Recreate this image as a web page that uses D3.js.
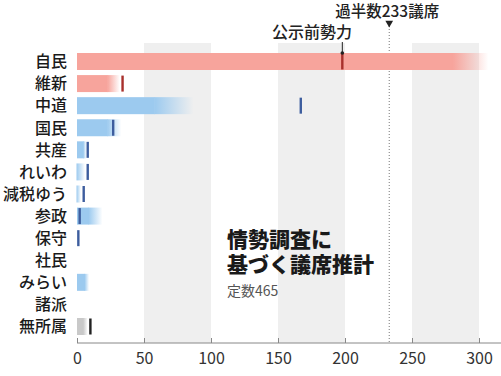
<!DOCTYPE html>
<html>
<head>
<meta charset="utf-8">
<script src="https://cdn.jsdelivr.net/npm/d3@7"></script>
<style>
  html, body { margin: 0; padding: 0; background: #fff; }
  svg { display: block; }
  text { font-family: "Noto Sans CJK JP", "Noto Sans", sans-serif; }
</style>
</head>
<body>
<svg id="chart" width="501" height="376"></svg>
<script>
// parties, top to bottom
const parties = ["自民", "維新", "中道", "国民", "共産", "れいわ", "減税ゆう", "参政", "保守", "社民", "みらい", "諸派", "無所属"];
// estimate range: solid up to low, fading out to high
const lowSeats  = [281, 23, 58, 23, 5, 0, 0, 9, 0, 0, 6, 0, 5];
const highSeats = [307, 32, 87, 33, 7, 6, 3, 19, 0, 0, 9, 0, 8];
// seats held before the campaign (null = none shown)
const preSeats  = [198, 34, 167, 27, 8, 8, 5, 2, 1, null, null, null, 10];
const colorGroup = ["red", "red", "blue", "blue", "blue", "blue", "blue", "blue", "blue", "blue", "blue", "blue", "gray"];
const xTicks = [0, 50, 100, 150, 200, 250, 300];
const shadedBands = [[50, 100], [150, 200], [250, 300]];
const majority = 233;
const titleLines = ["情勢調査に", "基づく議席推計"];

const palette = {
    red:  { bar: "#f7a49c", tick: "#a8302c" },
    blue: { bar: "#9ccaef", tick: "#3d5d9e" },
    gray: { bar: "#c9c9c9", tick: "#222" }
};

const svg = d3.select("#chart");
const axisY = 343;

const x = d3.scaleLinear().domain([0, 300]).range([77, 479]);
const y = d3.scalePoint().domain(parties).range([61.5, 326.5]);
const barH = 17;

// gradients for the fading part
const defs = svg.append("defs");
Object.keys(palette).forEach(k => {
    const gr = defs.append("linearGradient").attr("id", "fade-" + k)
        .attr("x1", 0).attr("x2", 1).attr("y1", 0).attr("y2", 0);
    gr.append("stop").attr("offset", 0).attr("stop-color", palette[k].bar).attr("stop-opacity", 1);
    gr.append("stop").attr("offset", 1).attr("stop-color", palette[k].bar).attr("stop-opacity", 0);
});

// gray bands
svg.selectAll("rect.band")
    .data(shadedBands)
    .enter()
    .append("rect")
    .attr("class", "band")
    .attr("x", d => x(d[0]))
    .attr("width", d => x(d[1]) - x(d[0]))
    .attr("y", 43)
    .attr("height", axisY - 43)
    .attr("fill", "#efefef");

// majority line
svg.append("line")
    .attr("x1", x(majority)).attr("x2", x(majority))
    .attr("y1", 26).attr("y2", axisY)
    .attr("stroke", "#777")
    .attr("stroke-width", 1)
    .attr("stroke-dasharray", "1,2");

svg.append("path")
    .attr("d", d3.symbol().type(d3.symbolTriangle).size(26)())
    .attr("transform", `translate(${x(majority)},23) rotate(180)`)
    .attr("fill", "#222");

svg.append("text")
    .attr("x", x(majority) - 2)
    .attr("y", 17)
    .attr("text-anchor", "middle")
    .attr("font-size", 15.5)
    .attr("font-weight", 500)
    .attr("fill", "#222")
    .text("過半数233議席");

const rows = parties.map((p, i) => ({
    party: p, low: lowSeats[i], high: highSeats[i], pre: preSeats[i], c: palette[colorGroup[i]], key: colorGroup[i]
}));

// solid part
svg.selectAll("rect.solid")
    .data(rows.filter(d => d.low > 0))
    .enter()
    .append("rect")
    .attr("class", "solid")
    .attr("x", x(0))
    .attr("y", d => y(d.party) - barH / 2)
    .attr("width", d => x(d.low) - x(0))
    .attr("height", barH)
    .attr("fill", d => d.c.bar);

// fading part
svg.selectAll("rect.fade")
    .data(rows.filter(d => d.high > d.low))
    .enter()
    .append("rect")
    .attr("class", "fade")
    .attr("x", d => x(d.low) - 0.5)
    .attr("y", d => y(d.party) - barH / 2)
    .attr("width", d => x(d.high) - x(d.low) + 0.5)
    .attr("height", barH)
    .attr("fill", d => "url(#fade-" + d.key + ")");

// pre-election markers
svg.selectAll("rect.pre")
    .data(rows.filter(d => d.pre != null))
    .enter()
    .append("rect")
    .attr("class", "pre")
    .attr("x", d => x(d.pre) - 1.2)
    .attr("y", d => y(d.party) - barH / 2 + 0.5)
    .attr("width", 2.4)
    .attr("height", barH - 1)
    .attr("fill", d => d.c.tick);

// callout for pre-election marker
const ldp = rows[0];
svg.append("line")
    .attr("x1", x(ldp.pre)).attr("x2", x(ldp.pre))
    .attr("y1", 42).attr("y2", y(ldp.party) - barH / 2)
    .attr("stroke", "#222").attr("stroke-width", 1);
svg.append("circle")
    .attr("cx", x(ldp.pre)).attr("cy", y(ldp.party) - barH / 2)
    .attr("r", 1.8).attr("fill", "#222");
svg.append("text")
    .attr("x", 312)
    .attr("y", 38)
    .attr("text-anchor", "middle")
    .attr("font-size", 16)
    .attr("font-weight", 500)
    .attr("fill", "#222")
    .text("公示前勢力");

// category labels
svg.selectAll("text.party")
    .data(parties)
    .enter()
    .append("text")
    .attr("class", "party")
    .attr("x", 67)
    .attr("y", d => y(d))
    .attr("dy", "0.36em")
    .attr("text-anchor", "end")
    .attr("font-size", 16)
    .attr("font-weight", 500)
    .attr("fill", "#1a1a1a")
    .text(d => d);

// x axis
const axis = svg.append("g")
    .attr("transform", `translate(0,${axisY})`)
    .call(d3.axisBottom(x).tickValues(xTicks).tickSize(-5).tickPadding(6));
axis.select(".domain").attr("d", `M${x(0)},0H501`).attr("stroke", "#888");
axis.selectAll(".tick line").attr("stroke", "#888");
axis.selectAll(".tick text")
    .attr("font-family", "'Liberation Sans Narrow', 'Liberation Sans', sans-serif")
    .attr("font-size", 16)
    .attr("fill", "#333")
    .attr("dy", "0.95em");

// title (one text block, two lines)
const title = svg.append("text")
    .attr("x", 227).attr("y", 247)
    .attr("font-size", 21).attr("font-weight", 900).attr("fill", "#1a1a1a");
title.selectAll("tspan")
    .data(titleLines)
    .enter()
    .append("tspan")
    .attr("x", 227)
    .attr("dy", (d, i) => i === 0 ? 0 : 25)
    .text(d => d);
svg.append("text").attr("x", 227).attr("y", 296).attr("font-size", 14).attr("fill", "#555").text("定数465");
</script>
</body>
</html>
